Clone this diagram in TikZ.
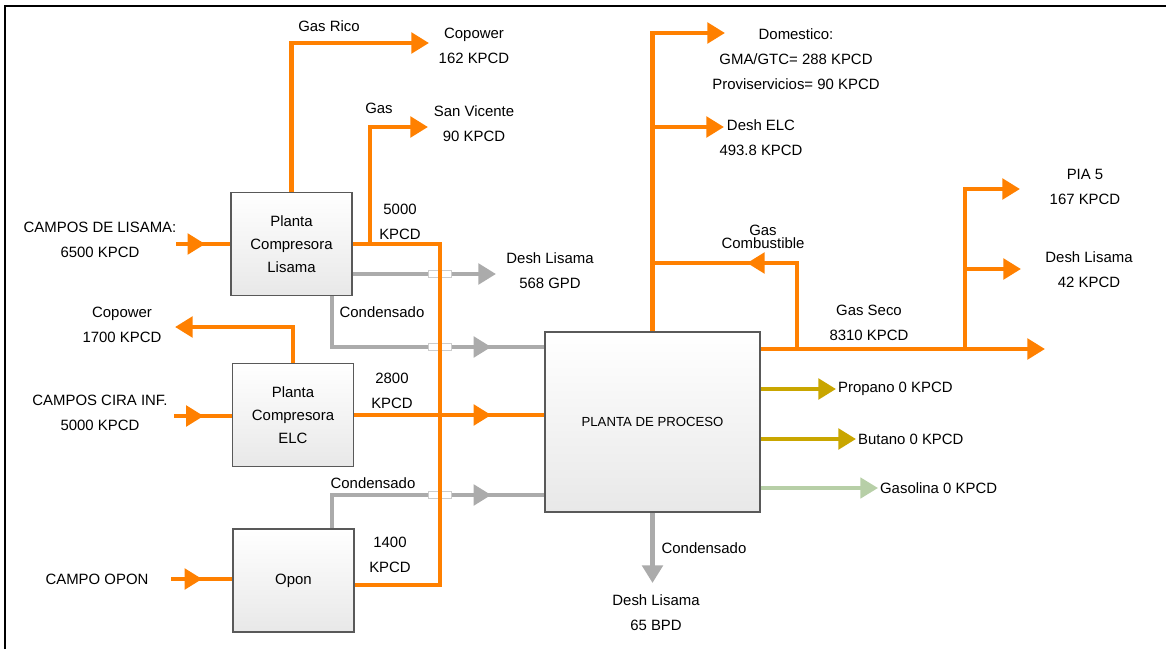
\documentclass[tikz,border=0pt]{standalone}
\usepackage{fontspec}
\setmainfont{Liberation Sans}
\usetikzlibrary{arrows.meta, decorations.markings}

\definecolor{gasorange}{HTML}{FF8000}
\definecolor{condgray}{HTML}{ABABAB}
\definecolor{lpgolive}{HTML}{C9A600}
\definecolor{gasolgreen}{HTML}{B7CFA7}

\tikzset{
    plantbox/.style={draw=black!65, line width=0.9pt, top color=white, bottom color=black!9,
        minimum width=2.42cm, minimum height=2.06cm, align=center, inner sep=1pt,
        font=\fontsize{8.5}{13}\selectfont},
    txt/.style={align=center, inner sep=1pt, font=\fontsize{8.5}{14.2}\selectfont},
    gasline/.style={line width=2.6pt, color=gasorange},
    condline/.style={line width=2.6pt, color=condgray},
    lpgline/.style={line width=2.6pt, color=lpgolive},
    gasolline/.style={line width=2.2pt, color=gasolgreen},
    flowtip/.style={-{Triangle[length=10pt, width=11.5pt]}},
    midtip/.style={postaction={decorate, decoration={markings,
        mark=at position #1 with {\arrow{Triangle[length=10pt, width=11.5pt]}}}}},
    crossgap/.style={draw=black!20, fill=white, line width=0.4pt,
        minimum width=0.46cm, minimum height=0.15cm, inner sep=0pt}
}

\begin{document}
\begin{tikzpicture}[x=0.02cm, y=-0.02cm]
    \useasboundingbox (0, 0) rectangle (1166, 649);
    \draw[line width=1.2pt] (5, 649) -- (5, 6) -- (1166, 6);

    % plants
    \node[plantbox] at (291.5, 244) (lisama) {Planta\\Compresora\\Lisama};
    \node[plantbox] at (293, 415) (elc) {Planta\\Compresora\\ELC};
    \node[plantbox] at (293.5, 580.5) (opon) {Opon};
    \node[plantbox, minimum width=4.3cm, minimum height=3.6cm, font=\fontsize{7.5}{9}\selectfont]
        at (652.5, 422) (proceso) {PLANTA DE PROCESO};

    % labels
    \node[txt] at (100, 239.5) (lCampLis) {CAMPOS DE LISAMA:\\6500 KPCD};
    \node[txt] at (100, 413) (lCira) {CAMPOS CIRA INF.\\5000 KPCD};
    \node[txt] at (97, 579) (lOpon) {CAMPO OPON};
    \node[txt] at (122, 324.5) (lCop2) {Copower\\1700 KPCD};
    \node[txt] at (329, 26) (lGasRico) {Gas Rico};
    \node[txt] at (474, 45.5) (lCop1) {Copower\\162 KPCD};
    \node[txt] at (379, 108) (lGas) {Gas};
    \node[txt] at (474, 124) (lSV) {San Vicente\\90 KPCD};
    \node[txt] at (400, 222) (l5000) {5000\\KPCD};
    \node[txt] at (550, 271) (lDesh1) {Desh Lisama\\568 GPD};
    \node[txt] at (382, 312) (lCond1) {Condensado};
    \node[txt] at (392, 390.5) (l2800) {2800\\KPCD};
    \node[txt] at (373, 483) (lCond2) {Condensado};
    \node[txt] at (390, 555) (l1400) {1400\\KPCD};
    \node[txt] at (796, 59) (lDom) {Domestico:\\GMA/GTC= 288 KPCD\\Proviservicios= 90 KPCD};
    \node[txt] at (761, 137.5) (lDeshELC) {Desh ELC\\493.8 KPCD};
    \node[txt, font=\fontsize{8.5}{7.4}\selectfont] at (763, 236.5) (lComb) {Gas\\Combustible};
    \node[txt] at (869, 322.5) (lSeco) {Gas Seco\\8310 KPCD};
    \node[txt] at (1085, 186.5) (lPIA) {PIA 5\\167 KPCD};
    \node[txt] at (1089, 270) (lDesh42) {Desh Lisama\\42 KPCD};
    \node[txt, anchor=west] at (836, 389) (propano) {Propano 0 KPCD};
    \node[txt, anchor=west] at (856, 439) (butano) {Butano 0 KPCD};
    \node[txt, anchor=west] at (878, 488) (gasolina) {Gasolina 0 KPCD};
    \node[txt] at (704, 548) (lCond3) {Condensado};
    \node[txt] at (656, 612.5) (lDesh65) {Desh Lisama\\65 BPD};

    % free ends and junctions
    \coordinate (inLis) at (176, 244);
    \coordinate (inCira) at (174, 416);
    \coordinate (inOpon) at (171, 579);
    \coordinate (endCop1) at (429, 43);
    \coordinate (gasJ) at (370, 244);
    \coordinate (endSV) at (428, 127);
    \coordinate (j5000) at (440, 244);
    \coordinate (j1400) at (440, 585);
    \coordinate (endCop2) at (175, 327);
    \coordinate (endDesh1) at (496, 274);
    \coordinate (condLis) at (332, 347);
    \coordinate (condOpon) at (332, 495);
    \coordinate (endDom) at (725, 33);
    \coordinate (endELC) at (724, 127);
    \coordinate (combTop) at (797, 263);
    \coordinate (combJ) at (797, 349);
    \coordinate (endSeco) at (1045, 349);
    \coordinate (piaJ) at (965, 349);
    \coordinate (endPIA) at (1020, 189);
    \coordinate (endDesh42) at (1021, 269);
    \coordinate (endCond) at (652.5, 583);

    % condensate
    \draw[condline, flowtip] (lisama.east |- endDesh1) -- (endDesh1);
    \draw[condline, midtip=-1.06cm] (lisama.south -| condLis) -- (condLis) -- (proceso.west |- condLis);
    \draw[condline, midtip=-1.06cm] (opon.north -| condOpon) -- (condOpon) -- (proceso.west |- condOpon);
    \draw[condline, flowtip] (proceso.south) -- (endCond);

    \node[crossgap] at (440, 274) (gap1) {};
    \node[crossgap] at (440, 347) (gap2) {};
    \node[crossgap] at (440, 495) (gap3) {};

    % gas
    \draw[gasline, midtip=-0.5cm] (inLis) -- (inLis -| lisama.west);
    \draw[gasline, midtip=-0.56cm] (inCira) -- (inCira -| elc.west);
    \draw[gasline, midtip=-0.6cm] (inOpon) -- (inOpon -| opon.west);
    \draw[gasline, flowtip] (lisama.north) |- (endCop1);
    \draw[gasline] (lisama.east) -- (j5000) -- (j1400) -- (opon.east |- j1400);
    \draw[gasline, flowtip] (gasJ) |- (endSV);
    \draw[gasline, flowtip] (elc.north) |- (endCop2);
    \draw[gasline, midtip=-1.06cm] (elc.east) -- (elc.east -| proceso.west);

    \draw[gasline, flowtip] (proceso.north) |- (endDom);
    \draw[gasline, flowtip] (proceso.north |- endELC) -- (endELC);
    \draw[gasline, midtip=-1.89cm] (combJ) -- (combTop) -- (proceso.north |- combTop);
    \draw[gasline, flowtip] (proceso.east |- endSeco) -- (endSeco);
    \draw[gasline, flowtip] (piaJ) |- (endPIA);
    \draw[gasline, flowtip] (piaJ |- endDesh42) -- (endDesh42);

    % liquids
    \draw[lpgline, flowtip] (proceso.east |- propano) -- (propano.west);
    \draw[lpgline, flowtip] (proceso.east |- butano) -- (butano.west);
    \draw[gasolline, flowtip] (proceso.east |- gasolina) -- (gasolina.west);
\end{tikzpicture}
\end{document}
